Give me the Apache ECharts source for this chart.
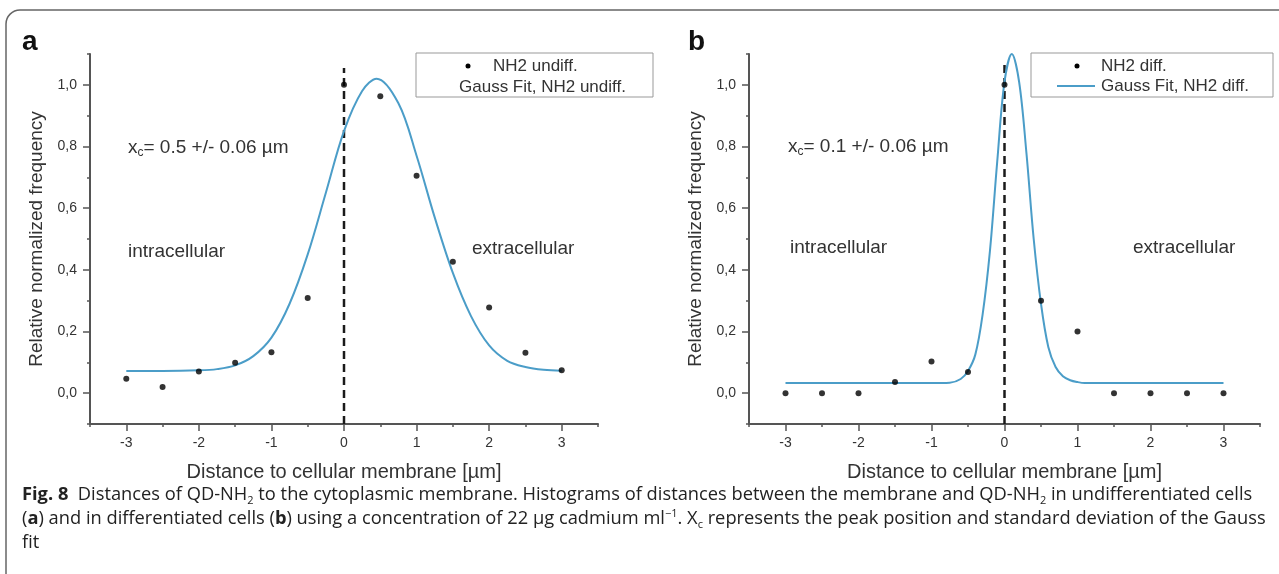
<!DOCTYPE html>
<html>
<head>
<meta charset="utf-8">
<script src="https://cdn.jsdelivr.net/npm/echarts@6/dist/echarts.min.js"></script>
<style>
  html, body { margin: 0; padding: 0; background: #fff; }
  #chart { width: 1279px; height: 574px; }
</style>
</head>
<body>
<div id="chart"></div>
<script>
// panel a - undifferentiated cells
const distA = [-3, -2.5, -2, -1.5, -1, -0.5, 0, 0.5, 1, 1.5, 2, 2.5, 3];
const freqA = [0.047, 0.02, 0.07, 0.099, 0.133, 0.309, 1.0, 0.963, 0.705, 0.426, 0.278, 0.131, 0.074];
const fitXA = [-3, -2.5, -2, -1.75, -1.5, -1.25, -1, -0.75, -0.5, -0.25, 0, 0.25, 0.45, 0.75, 1, 1.25, 1.5, 1.75, 2, 2.25, 2.5, 2.75, 3];
const fitYA = [0.072, 0.072, 0.074, 0.078, 0.09, 0.12, 0.18, 0.29, 0.45, 0.65, 0.85, 0.98, 1.02, 0.94, 0.77, 0.57, 0.39, 0.25, 0.155, 0.105, 0.085, 0.076, 0.073];
const membraneA = [[0, -0.1], [0, 1.055]];

// panel b - differentiated cells
const distB = [-3, -2.5, -2, -1.5, -1, -0.5, 0, 0.5, 1, 1.5, 2, 2.5, 3];
const freqB = [0, 0, 0, 0.036, 0.103, 0.069, 1.0, 0.30, 0.20, 0, 0, 0, 0];
const fitXB = [-3, -2, -1, -0.75, -0.6, -0.5, -0.4, -0.3, -0.2, -0.1, 0, 0.1, 0.2, 0.3, 0.4, 0.5, 0.6, 0.7, 0.8, 0.9, 1.0, 1.1, 2, 3];
const fitYB = [0.033, 0.033, 0.033, 0.034, 0.046, 0.072, 0.125, 0.255, 0.46, 0.75, 1.01, 1.10, 1.01, 0.78, 0.50, 0.29, 0.15, 0.085, 0.055, 0.042, 0.036, 0.033, 0.033, 0.033];
const membraneB = [[0, -0.1], [0, 1.07]];

// axis ticks
const xMajor = [-3, -2, -1, 0, 1, 2, 3];
const yMajor = [0, 0.2, 0.4, 0.6, 0.8, 1.0];

const pairs = (xs, ys) => xs.map((x, i) => [x, ys[i]]);

const FONT = 'Liberation Sans, Arial, sans-serif';
const CAP_FONT = 'Open Sans, Noto Sans, sans-serif';
const CAP_SIZE = 18.3;
const TXT = '#333';
const AXIS = '#555';
const BLUE = '#4b9dc8';

function xAxes(grid) {
  return [
    {
      gridIndex: grid, type: 'value', position: 'bottom', min: -3.5, max: 3.5, interval: 0.5,
      axisLine: { show: true, onZero: false, lineStyle: { color: AXIS, width: 2 } },
      axisTick: { show: true, length: 3, lineStyle: { color: AXIS, width: 1.5 } },
      axisLabel: {
        margin: 12, fontSize: 14, color: TXT, fontFamily: FONT,
        formatter: v => (Number.isInteger(v) && Math.abs(v) <= 3) ? String(v) : ''
      },
      splitLine: { show: false },
      name: 'Distance to cellular membrane [µm]', nameLocation: 'middle', nameGap: 38,
      nameTextStyle: { fontSize: 20, color: TXT, fontFamily: FONT }
    },
    {
      gridIndex: grid, type: 'value', position: 'bottom', min: -3.5, max: 3.5,
      axisLine: { show: false, onZero: false },
      axisTick: { show: true, customValues: xMajor, length: 7, lineStyle: { color: AXIS, width: 1.5 } },
      axisLabel: { show: false },
      splitLine: { show: false }
    }
  ];
}

function yAxes(grid) {
  return [
    {
      gridIndex: grid, type: 'value', position: 'left', min: -0.1, max: 1.1, interval: 0.1,
      axisLine: { show: true, onZero: false, lineStyle: { color: AXIS, width: 2 } },
      axisTick: { show: true, length: 3, lineStyle: { color: AXIS, width: 1.5 } },
      axisLabel: {
        margin: 13, fontSize: 14, color: TXT, fontFamily: FONT,
        formatter: v => {
          const k = Math.round(v * 10);
          return (k >= 0 && k <= 10 && k % 2 === 0) ? (k / 10).toFixed(1).replace('.', ',') : '';
        }
      },
      splitLine: { show: false },
      name: 'Relative normalized frequency', nameLocation: 'middle', nameGap: 44,
      nameTextStyle: { fontSize: 19, color: TXT, fontFamily: FONT }
    },
    {
      gridIndex: grid, type: 'value', position: 'left', min: -0.1, max: 1.1,
      axisLine: { show: false, onZero: false },
      axisTick: { show: true, customValues: yMajor, length: 7, lineStyle: { color: AXIS, width: 1.5 } },
      axisLabel: { show: false },
      splitLine: { show: false }
    }
  ];
}

function panelSeries(ax, name, dist, freq, fitX, fitY, membrane) {
  return [
    {
      name: 'Gauss Fit, ' + name, type: 'line', xAxisIndex: ax, yAxisIndex: ax,
      data: pairs(fitX, fitY), smooth: 0.35, showSymbol: false, clip: false,
      lineStyle: { color: BLUE, width: 2 }, z: 3
    },
    {
      name: 'membrane', type: 'line', xAxisIndex: ax, yAxisIndex: ax,
      data: membrane, showSymbol: false,
      lineStyle: { color: '#1a1a1a', width: 2.5, type: [8, 5] }, z: 2
    },
    {
      name: name, type: 'scatter', xAxisIndex: ax, yAxisIndex: ax,
      data: pairs(dist, freq), symbol: 'circle', symbolSize: 6,
      itemStyle: { color: '#000' }, z: 4
    }
  ];
}

function makeRich(family, size) {
  return {
    sub: { fontSize: Math.round(size * 0.62), fontFamily: family, verticalAlign: 'bottom', lineHeight: 12 },
    sup: { fontSize: Math.round(size * 0.62), fontFamily: family, verticalAlign: 'top', lineHeight: 12 },
    b: { fontSize: size, fontFamily: family, fontWeight: 'bold' }
  };
}

function label(x, y, text, size, family, extra) {
  return {
    type: 'text', x: x, y: y, silent: true,
    style: Object.assign({
      text: text, fill: TXT, fontSize: size, fontFamily: family,
      verticalAlign: 'middle', lineHeight: 22, rich: makeRich(family, size)
    }, extra || {})
  };
}

function capLine(y, text) {
  return label(22, y, text, CAP_SIZE, CAP_FONT, { fill: '#222' });
}

const graphic = [
  { type: 'rect', silent: true, shape: { x: 6, y: 10, width: 1330, height: 640, r: 14 },
    style: { fill: 'none', stroke: '#666', lineWidth: 1.5 } },
  label(22, 42, 'a', 28, FONT, { fill: '#111', fontWeight: 'bold' }),
  label(688, 42, 'b', 28, FONT, { fill: '#111', fontWeight: 'bold' }),

  label(128, 148, 'x{sub|c}= 0.5 +/- 0.06 µm', 19, FONT),
  label(128, 252, 'intracellular', 19, FONT),
  label(472, 249, 'extracellular', 19, FONT),
  label(788, 147, 'x{sub|c}= 0.1 +/- 0.06 µm', 19, FONT),
  label(790, 248, 'intracellular', 19, FONT),
  label(1133, 248, 'extracellular', 19, FONT),

  // legend a
  { type: 'rect', silent: true, shape: { x: 416, y: 53, width: 237, height: 44 },
    style: { fill: '#fff', stroke: '#999', lineWidth: 1 } },
  { type: 'circle', silent: true, shape: { cx: 468, cy: 66, r: 2.5 }, style: { fill: '#000' } },
  label(493, 66, 'NH2 undiff.', 17, FONT),
  label(459, 87, 'Gauss Fit, NH2 undiff.', 17, FONT),

  // legend b
  { type: 'rect', silent: true, shape: { x: 1031, y: 53, width: 242, height: 44 },
    style: { fill: '#fff', stroke: '#999', lineWidth: 1 } },
  { type: 'circle', silent: true, shape: { cx: 1077, cy: 66, r: 2.5 }, style: { fill: '#000' } },
  label(1101, 66, 'NH2 diff.', 17, FONT),
  { type: 'line', silent: true, shape: { x1: 1057, y1: 86, x2: 1095, y2: 86 },
    style: { stroke: BLUE, lineWidth: 2 } },
  label(1101, 86, 'Gauss Fit, NH2 diff.', 17, FONT),

  // caption
  capLine(495, '{b|Fig. 8}  Distances of QD-NH{sub|2} to the cytoplasmic membrane. Histograms of distances between the membrane and QD-NH{sub|2} in undifferentiated cells'),
  capLine(519, '({b|a}) and in differentiated cells ({b|b}) using a concentration of 22 µg cadmium ml{sup|−1}. X{sub|c} represents the peak position and standard deviation of the Gauss'),
  capLine(543, 'fit')
];

const chart = echarts.init(document.getElementById('chart'), null, { renderer: 'canvas' });
chart.setOption({
  animation: false,
  backgroundColor: '#fff',
  grid: [
    { left: 90, right: 681, top: 54, bottom: 150 },
    { left: 749, right: 19, top: 54, bottom: 150 }
  ],
  xAxis: [...xAxes(0), ...xAxes(1)],
  yAxis: [...yAxes(0), ...yAxes(1)],
  series: [
    ...panelSeries(0, 'NH2 undiff.', distA, freqA, fitXA, fitYA, membraneA),
    ...panelSeries(2, 'NH2 diff.', distB, freqB, fitXB, fitYB, membraneB)
  ],
  graphic: graphic
});
</script>
</body>
</html>
